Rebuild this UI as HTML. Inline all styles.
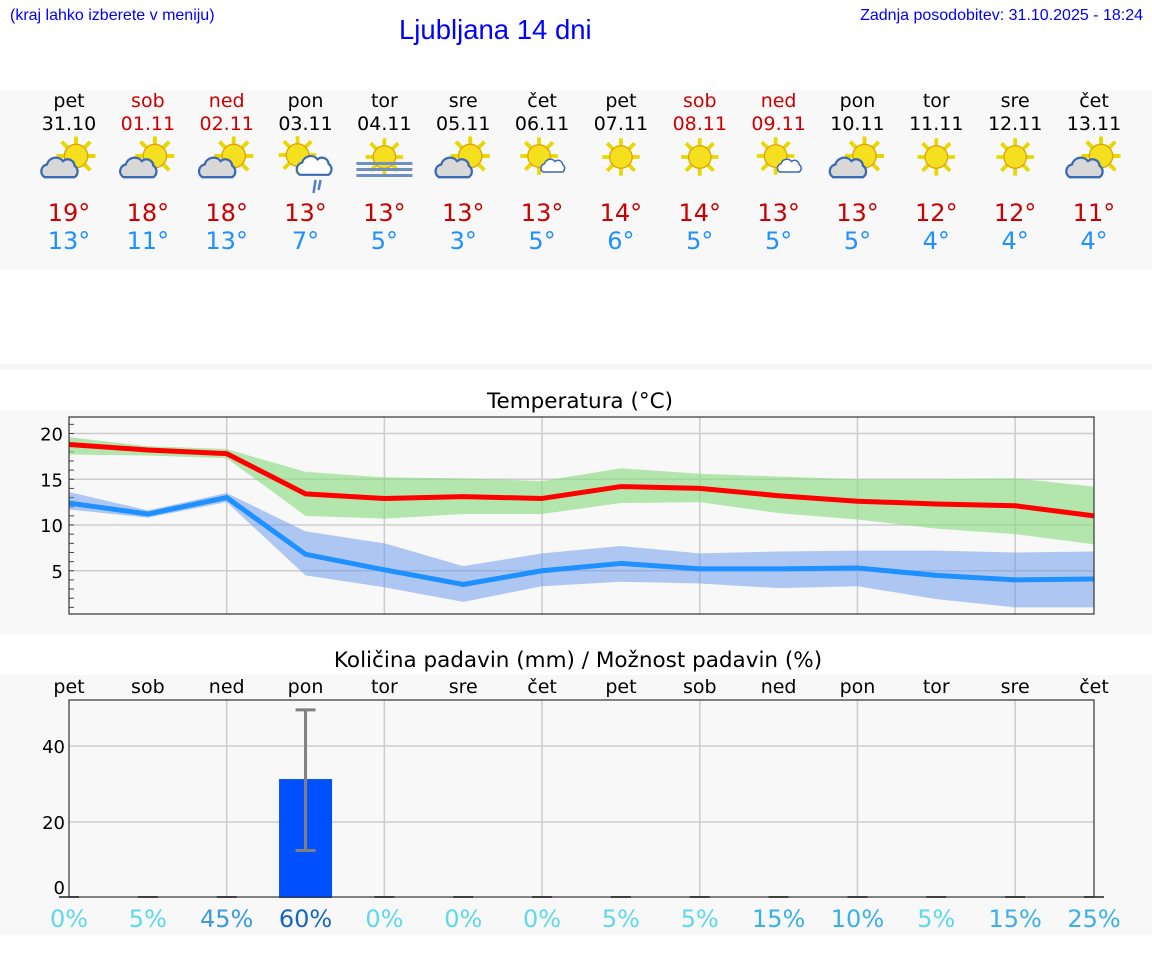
<!DOCTYPE html>
<html><head><meta charset="utf-8"><style>
body{margin:0;width:1152px;height:975px;background:#fff;font-family:"DejaVu Sans","Liberation Sans",sans-serif;overflow:hidden;position:relative}
.a{position:absolute}
</style></head><body>
<div class="a" style="left:10px;top:7px;font:16px 'Liberation Sans',sans-serif;color:#00f">(kraj lahko izberete v meniju)</div>
<div class="a" style="left:399px;top:14px;font:27.5px 'Liberation Sans',sans-serif;color:#00f">Ljubljana 14 dni</div>
<div class="a" style="right:9px;top:7px;font:16px 'Liberation Sans',sans-serif;color:#00f">Zadnja posodobitev: 31.10.2025 - 18:24</div>
<div class="a" style="left:0;top:90px;width:1152px;height:180px;background:#f8f8f8"></div>
<div class="a" style="left:0;top:364px;width:1152px;height:6px;background:#f6f6f6"></div>
<div class="a" style="left:0;top:410px;width:1152px;height:224px;background:#f8f8f8"></div>
<div class="a" style="left:0;top:675px;width:1152px;height:260px;background:#f8f8f8"></div>
<svg class="a" style="left:0;top:0" width="1152" height="975" id="svg">
<defs>
<g id="sun"><g stroke="#e8d800" stroke-width="3"><line x1="-15" y1="0" x2="15" y2="0"/><line x1="0" y1="-15" x2="0" y2="15"/><line x1="-11" y1="-11" x2="11" y2="11"/><line x1="-11" y1="11" x2="11" y2="-11"/></g><circle r="9" fill="#f5e020" stroke="#e0a000" stroke-width="1"/></g>
<g id="cloud"><path d="M-16,8 a6,6 0 0 1 2,-11 a8,8 0 0 1 14,-3 a6,6 0 0 1 10,4 a6,6 0 0 1 0,10 z" fill="#d8d8d8" stroke="#3a6ab0" stroke-width="2"/></g>
<g id="cloudw"><path d="M-16,8 a6,6 0 0 1 2,-11 a8,8 0 0 1 14,-3 a6,6 0 0 1 10,4 a6,6 0 0 1 0,10 z" fill="#fff" stroke="#3a6ab0" stroke-width="2"/></g>
</defs>
<text x="580" y="408" font-size="21.5" text-anchor="middle">Temperatura (°C)</text>
<text x="578" y="667" font-size="21.5" text-anchor="middle">Količina padavin (mm) / Možnost padavin (%)</text>
<text x="853" y="484" font-size="17" fill="#00f" text-anchor="middle" font-family="Liberation Sans">© vreme.us &amp; vreme.pro</text>
<g id="g"></g>
</svg>
<script>
const days=['pet','sob','ned','pon','tor','sre','čet','pet','sob','ned','pon','tor','sre','čet'];
const dates=['31.10','01.11','02.11','03.11','04.11','05.11','06.11','07.11','08.11','09.11','10.11','11.11','12.11','13.11'];
const weekend=[0,1,1,0,0,0,0,0,1,1,0,0,0,0];
const icons=['pc','pc','pc','rain','fog','pc','sc','sun','sun','sc','pc','sun','sun','pc'];
const tmax=[18.8,18.2,17.8,13.4,12.9,13.1,12.9,14.2,14.0,13.2,12.6,12.3,12.1,11.0];
const tmin=[12.4,11.2,13.0,6.8,5.1,3.5,5.0,5.8,5.2,5.2,5.3,4.5,4.0,4.1];
const maxHi=[19.6,18.6,18.3,15.8,15.2,15.1,14.8,16.2,15.6,15.3,15.0,15.0,15.1,14.2];
const maxLo=[17.7,17.6,17.3,11.0,10.7,11.2,11.2,12.4,12.5,11.3,10.6,9.6,9.0,7.9];
const minHi=[13.6,11.6,13.5,9.3,8.0,5.5,6.9,7.7,6.9,7.1,7.2,7.2,7.0,7.1];
const minLo=[11.7,10.8,12.5,4.5,3.2,1.6,3.3,3.8,3.6,3.1,3.3,1.9,1.0,1.0];
const maxLabels=[19,18,18,13,13,13,13,14,14,13,13,12,12,11];
const minLabels=[13,11,13,7,5,3,5,6,5,5,5,4,4,4];
const precip=[0,0,0,31.3,0,0,0,0,0,0,0,0,0,0];
const errLo=[0,0,0,12.5,0,0,0,0,0,0,0,0,0,0];
const errHi=[0,0,0,49.5,0,0,0,0,0,0,0,0,0,0];
const prob=[0,5,45,60,0,0,0,5,5,15,10,5,15,25];
const tTicks=[5,10,15,20];
const pTicks=[0,20,40];

const NS='http://www.w3.org/2000/svg',G=document.getElementById('g');
function el(t,a,txt){const e=document.createElementNS(NS,t);for(const k in a)e.setAttribute(k,a[k]);if(txt!==undefined)e.textContent=txt;G.appendChild(e);return e;}
const X0=69,X1=1094;
const x=i=>X0+i*(X1-X0)/13;
const yT=v=>433.5+(20-v)*9.15;
const yP=v=>898-v*3.8;

days.forEach((d,i)=>{
  const c=weekend[i]?'#cc0000':'#000';
  let e=el('text',{x:x(i),y:107,'font-size':19,'text-anchor':'middle',fill:c},d);
  
  e=el('text',{x:x(i),y:130,'font-size':19,'text-anchor':'middle',fill:c},dates[i]);
  
  e=el('text',{x:x(i),y:221,'font-size':24,'text-anchor':'middle',fill:'#cc0000'},maxLabels[i]+'°');
  
  e=el('text',{x:x(i),y:249,'font-size':24,'text-anchor':'middle',fill:'#1e90ff'},minLabels[i]+'°');
  
  const cx=x(i),t=icons[i];
  const use=(id,dx,dy,s)=>el('use',{href:'#'+id,transform:`translate(${cx+dx},${dy}) scale(${s})`});
  if(t==='pc'){use('sun',7,156,1.3);use('cloud',-6,168,1.15);}
  else if(t==='sun'){use('sun',0,157,1.25);}
  else if(t==='sc'){use('sun',-3,156,1.25);use('cloudw',13,166,0.75);}
  else if(t==='rain'){use('sun',-8,155,1.25);use('cloudw',12,166,1.1);el('line',{x1:cx+10,y1:180,x2:cx+8,y2:193,stroke:'#5580c0','stroke-width':2.5});el('line',{x1:cx+15,y1:180,x2:cx+13,y2:190,stroke:'#5580c0','stroke-width':2.5});}
  else if(t==='fog'){use('sun',0,157,1.25);[162,168,174].forEach(yy=>el('rect',{x:cx-28,y:yy,width:56,height:3,fill:'#7090c0'}));}
  const ic=G.lastChild;
});

el('rect',{x:X0,y:417,width:X1-X0,height:197,fill:'#f8f8f8'});
tTicks.forEach(v=>{el('line',{x1:X0,x2:X1,y1:yT(v),y2:yT(v),stroke:'#ccc','stroke-width':1.5});
  const e=el('text',{x:63,y:yT(v)+7,'font-size':18,'text-anchor':'end'},v);});
for(let v=1;v<=21;v++)el('line',{x1:X0,x2:X0+5,y1:yT(v),y2:yT(v),stroke:'#444'});
for(let i=2;i<13;i+=2)el('line',{x1:x(i),x2:x(i),y1:417,y2:614,stroke:'#ccc','stroke-width':1.5});
function band(hi,lo,fill,name){let d='';hi.forEach((v,i)=>d+=(i?'L':'M')+x(i)+','+yT(v));for(let i=lo.length-1;i>=0;i--)d+='L'+x(i)+','+yT(lo[i]);
  const e=el('path',{d:d+'Z',fill:fill});}
band(maxHi,maxLo,'rgba(140,220,130,0.65)','max-temp-range');
band(minHi,minLo,'rgba(100,150,235,0.5)','min-temp-range');
function line(a,c,name){const e=el('polyline',{points:a.map((v,i)=>x(i)+','+yT(v)).join(' '),fill:'none',stroke:c,'stroke-width':5,'stroke-linejoin':'round'});}
line(tmin,'#1e90ff','min-temp-line');line(tmax,'#ff0000','max-temp-line');
el('rect',{x:X0,y:417,width:X1-X0,height:197,fill:'none',stroke:'#333','stroke-width':1.2});

days.forEach((d,i)=>{const e=el('text',{x:x(i),y:693,'font-size':19,'text-anchor':'middle'},d);});
pTicks.forEach(v=>{if(v>0)el('line',{x1:X0,x2:X1,y1:yP(v),y2:yP(v),stroke:'#ccc','stroke-width':1.5});
  const e=el('text',{x:65,y:yP(v)+(v?7:-4),'font-size':18,'text-anchor':'end'},v);});
for(let i=2;i<13;i+=2)el('line',{x1:x(i),x2:x(i),y1:700,y2:897,stroke:'#ccc','stroke-width':1.5});
precip.forEach((v,i)=>{
  if(v>0){const e=el('rect',{x:x(i)-26.5,y:yP(v),width:53,height:yP(0)-yP(v),fill:'#0050ff'});
    el('line',{x1:x(i),x2:x(i),y1:yP(errHi[i]),y2:yP(errLo[i]),stroke:'#808080','stroke-width':3});
    el('line',{x1:x(i)-10,x2:x(i)+10,y1:yP(errHi[i]),y2:yP(errHi[i]),stroke:'#808080','stroke-width':3});
    el('line',{x1:x(i)-10,x2:x(i)+10,y1:yP(errLo[i]),y2:yP(errLo[i]),stroke:'#808080','stroke-width':3});}
  else el('line',{x1:x(i)-10,x2:x(i)+10,y1:897,y2:897,stroke:'#555','stroke-width':2});
  const col=prob[i]>=60?'#1565c0':prob[i]>=45?'#3a9be0':prob[i]>=10?'#3ab0e8':'#5ed8ea';
  const e=el('text',{x:x(i),y:927,'font-size':24,'text-anchor':'middle',fill:col},prob[i]+'%');
});
el('rect',{x:X0,y:700,width:X1-X0,height:197,fill:'none',stroke:'#333','stroke-width':1.2});
</script>
</body></html>
